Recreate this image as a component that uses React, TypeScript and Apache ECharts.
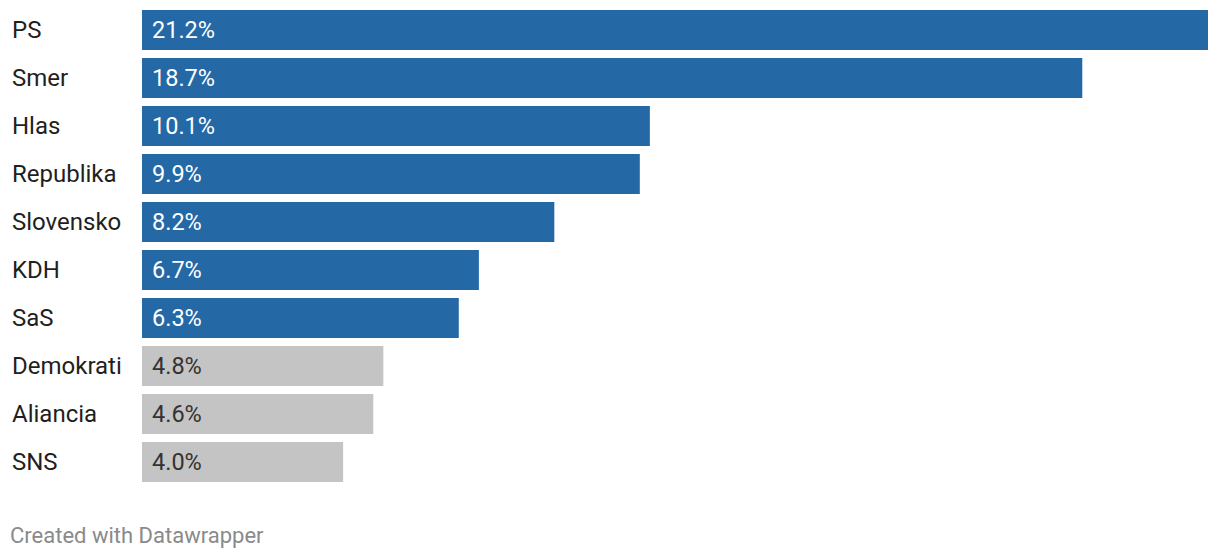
import React, { useEffect, useRef } from "react";
import * as echarts from "echarts";

const parties = ["PS", "Smer", "Hlas", "Republika", "Slovensko", "KDH", "SaS", "Demokrati", "Aliancia", "SNS"];
const values = [21.2, 18.7, 10.1, 9.9, 8.2, 6.7, 6.3, 4.8, 4.6, 4.0];
const threshold = 5;
const blue = "#2468a6";
const gray = "#c4c4c4";
const footer = "Created with Datawrapper";

export default function App() {
  const ref = useRef<HTMLDivElement>(null);
  useEffect(() => {
    if (!ref.current) return;
    const chart = echarts.init(ref.current, undefined, { renderer: "svg" });
    chart.setOption({
      animation: false,
      grid: { left: 142, right: 12, top: 6, height: 480, containLabel: false },
      xAxis: {
        type: "value",
        min: 0,
        max: 21.2,
        show: false,
      },
      yAxis: {
        type: "category",
        data: parties,
        inverse: true,
        axisLine: { show: false },
        axisTick: { show: false },
        splitLine: { show: false },
        axisLabel: {
          align: "left",
          margin: 130,
          color: "#1f1f1f",
          fontFamily: "Roboto",
          fontSize: 24,
        },
      },
      series: [
        {
          type: "bar",
          barWidth: 40,
          data: values.map((v) => ({
            value: v,
            itemStyle: { color: v >= threshold ? blue : gray },
            label: { color: v >= threshold ? "#ffffff" : "#333333" },
          })),
          label: {
            show: true,
            position: "insideLeft",
            distance: 10,
            fontFamily: "Roboto",
            fontSize: 23.5,
            formatter: (p: any) => p.value.toFixed(1) + "%",
          },
        },
      ],
      graphic: [
        {
          type: "text",
          left: 10,
          top: 524,
          style: {
            text: footer,
            fill: "#8a8a8a",
            font: "22px Roboto",
          },
        },
      ],
    });
    return () => chart.dispose();
  }, []);
  return (
    <div
      ref={ref}
      style={{ position: "absolute", left: 0, top: 0, width: 1220, height: 558, background: "#fff" }}
    />
  );
}
